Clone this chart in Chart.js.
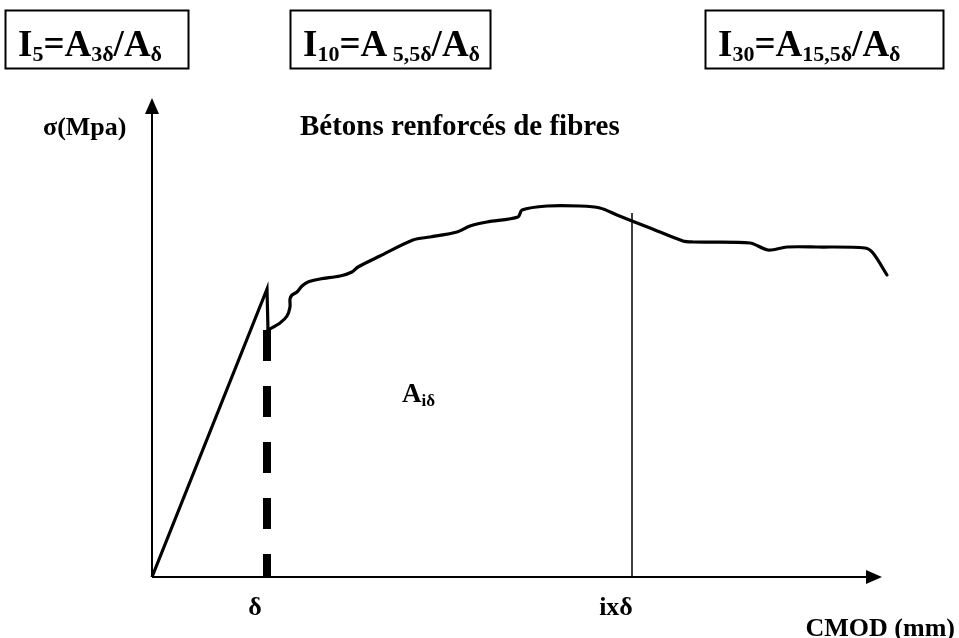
<!DOCTYPE html>
<html>
<head>
<meta charset="utf-8">
<script src="https://cdn.jsdelivr.net/npm/chart.js@4.4.1/dist/chart.umd.min.js"></script>
<style>
  html, body { margin: 0; padding: 0; background: #ffffff; }
  canvas { display: block; }
</style>
</head>
<body>
<canvas id="c" width="959" height="638"></canvas>
<script>
// Linear elastic branch up to first crack, then the drop at δ
const elasticCmod = [0, 1.15, 1.16];
const elasticStress = [0, 2.88, 2.47];

// Post-cracking branch of the fibre-reinforced concrete
const postCmod = [1.16, 1.28, 1.35, 1.38, 1.38, 1.40, 1.45, 1.50, 1.56, 1.68, 1.88, 2.00, 2.06,
  2.28, 2.61, 2.78, 3.05, 3.18, 3.35, 3.66, 3.70, 3.95, 4.28, 4.48, 4.65, 4.80, 4.98,
  5.31, 5.41, 5.98, 6.16, 6.35, 6.65, 7.13, 7.21, 7.35];
const postStress = [2.47, 2.54, 2.61, 2.70, 2.78, 2.82, 2.85, 2.91, 2.95, 2.98, 3.01, 3.05, 3.10,
  3.21, 3.37, 3.40, 3.45, 3.51, 3.55, 3.60, 3.67, 3.71, 3.71, 3.69, 3.62, 3.56, 3.49,
  3.36, 3.35, 3.34, 3.27, 3.30, 3.30, 3.29, 3.24, 3.02];

// Reference abscissae and the axis extents
const deltaCmod = 1.15;        // δ
const deltaTop = 2.47;
const ixDeltaCmod = 4.80;      // i × δ
const ixDeltaTop = 3.64;
const axisXEnd = 7.30;
const axisYEnd = 4.79;
const arrowLen = 0.16;

// Text labels
const yTitle = 'σ(Mpa)';
const chartTitle = 'Bétons renforcés de fibres';
const xTitle = 'CMOD (mm)';
const deltaLabel = 'δ';
const ixDeltaLabel = 'ixδ';
const areaLabel = [['A', false], ['iδ', true]];
const indexBoxes = [
  [['I', false], ['5', true], ['=A', false], ['3δ', true], ['/A', false], ['δ', true]],
  [['I', false], ['10', true], ['=A', false], [' 5,5δ', true], ['/A', false], ['δ', true]],
  [['I', false], ['30', true], ['=A', false], ['15,5δ', true], ['/A', false], ['δ', true]]
];

const pts = (xs, ys) => xs.map((x, i) => ({ x: x, y: ys[i] }));

const SERIF = "'Liberation Serif', 'Times New Roman', serif";

function drawRuns(ctx, runs, x, y, size, subSize, subDrop) {
  let cx = x;
  ctx.textAlign = 'left';
  ctx.textBaseline = 'alphabetic';
  runs.forEach(([t, sub]) => {
    ctx.font = 'bold ' + (sub ? subSize : size) + 'px ' + SERIF;
    ctx.fillText(t, cx, sub ? y + subDrop : y);
    cx += ctx.measureText(t).width;
  });
  return cx - x;
}

const decorations = {
  id: 'decorations',
  afterDraw(chart) {
    const ctx = chart.ctx;
    const xs = chart.scales.x, ys = chart.scales.y;
    ctx.save();
    ctx.fillStyle = '#000';
    ctx.strokeStyle = '#000';

    // Arrow heads at the ends of both axes
    const ox = xs.getPixelForValue(0), oy = ys.getPixelForValue(0);
    const xTip = xs.getPixelForValue(axisXEnd);
    const yTip = ys.getPixelForValue(axisYEnd);
    ctx.beginPath();
    ctx.moveTo(xTip, oy);
    ctx.lineTo(xTip - 16, oy - 7);
    ctx.lineTo(xTip - 16, oy + 7);
    ctx.closePath();
    ctx.fill();
    ctx.beginPath();
    ctx.moveTo(ox, yTip);
    ctx.lineTo(ox - 7, yTip + 16);
    ctx.lineTo(ox + 7, yTip + 16);
    ctx.closePath();
    ctx.fill();

    // Boxes with the toughness index definitions
    const boxes = [[5, 188], [290, 490], [705, 943]];
    const boxTop = 10, boxBottom = 68;
    ctx.lineWidth = 2;
    boxes.forEach(([l, r], i) => {
      ctx.strokeRect(l + 0.5, boxTop + 0.5, r - l, boxBottom - boxTop);
      drawRuns(ctx, indexBoxes[i], l + 13, 56, 37, 22, 5);
    });

    // Axis titles and chart title
    ctx.textAlign = 'left';
    ctx.textBaseline = 'alphabetic';
    ctx.font = 'bold 26px ' + SERIF;
    ctx.fillText(yTitle, 43, 135);
    ctx.font = 'bold 29px ' + SERIF;
    ctx.fillText(chartTitle, 300, 135);
    ctx.font = 'bold 26px ' + SERIF;
    ctx.textAlign = 'right';
    ctx.fillText(xTitle, 955, 636);

    // Tick-like labels under δ and i×δ
    ctx.textAlign = 'center';
    ctx.fillText(deltaLabel, xs.getPixelForValue(deltaCmod) - 12, 615);
    ctx.fillText(ixDeltaLabel, xs.getPixelForValue(ixDeltaCmod) - 16, 615);

    // Area label
    drawRuns(ctx, areaLabel, 402, 402, 27, 17, 4);
    ctx.restore();
  }
};

new Chart(document.getElementById('c'), {
  type: 'scatter',
  data: {
    datasets: [
      { // x axis line
        data: pts([0, axisXEnd - arrowLen], [0, 0]),
        showLine: true, borderColor: '#000', borderWidth: 2, pointRadius: 0, clip: false
      },
      { // y axis line
        data: pts([0, 0], [0, axisYEnd - arrowLen]),
        showLine: true, borderColor: '#000', borderWidth: 2, pointRadius: 0, clip: false
      },
      { // dashed line at δ
        data: pts([deltaCmod, deltaCmod], [deltaTop, 0]),
        showLine: true, borderColor: '#000', borderWidth: 8, borderDash: [31, 25],
        borderCapStyle: 'butt', pointRadius: 0, clip: false
      },
      { // thin line at i×δ
        data: pts([ixDeltaCmod, ixDeltaCmod], [ixDeltaTop, 0]),
        showLine: true, borderColor: '#000', borderWidth: 1.5, pointRadius: 0, clip: false
      },
      { // elastic branch
        data: pts(elasticCmod, elasticStress),
        showLine: true, borderColor: '#000', borderWidth: 3.2, pointRadius: 0,
        tension: 0, borderJoinStyle: 'miter', clip: false
      },
      { // post-cracking branch
        data: pts(postCmod, postStress),
        showLine: true, borderColor: '#000', borderWidth: 3.2, pointRadius: 0,
        tension: 0.3, borderJoinStyle: 'round', borderCapStyle: 'round', clip: false
      }
    ]
  },
  options: {
    responsive: false,
    animation: false,
    devicePixelRatio: 1,
    layout: { padding: { left: 152, right: 57, top: 97, bottom: 61 } },
    plugins: { legend: { display: false }, tooltip: { enabled: false }, title: { display: false } },
    scales: {
      x: { type: 'linear', min: 0, max: 7.5, display: false },
      y: { type: 'linear', min: 0, max: 4.8, display: false }
    }
  },
  plugins: [decorations]
});
</script>
</body>
</html>
